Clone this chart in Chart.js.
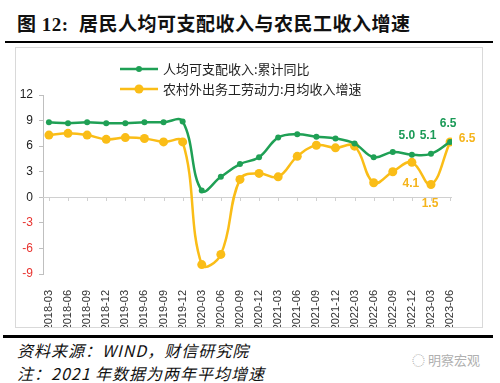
<!DOCTYPE html>
<html>
<head>
<meta charset="utf-8">
<script src="https://cdn.jsdelivr.net/npm/chart.js@4"></script>
<style>
  html,body{margin:0;padding:0;background:#fff;width:500px;height:383px;overflow:hidden;position:relative;}
  #title{position:absolute;left:17px;top:9px;font-family:"Liberation Serif","Noto Sans CJK SC",serif;font-weight:bold;font-size:19px;color:#111;white-space:nowrap;letter-spacing:0.5px;}
  #title .cn{font-family:"Noto Sans CJK SC",sans-serif;font-weight:600;}
  #rule1{position:absolute;left:5px;top:41px;width:488px;height:2px;background:#000;}
  #frame{position:absolute;left:15px;top:47px;width:466px;height:279px;border:1px solid #d9d9d9;}
  #cv{position:absolute;left:15px;top:47px;}
  #rule2{position:absolute;left:3px;top:335px;width:490px;height:3px;background:#000;}
  .foot{position:absolute;left:17px;font-family:"Noto Sans CJK SC",sans-serif;font-style:italic;font-size:16px;letter-spacing:1px;color:#111;white-space:nowrap;}
  #wm{position:absolute;left:412px;top:350px;font-family:"Noto Sans CJK SC",sans-serif;font-size:13px;color:#b0b0b0;}
</style>
</head>
<body>
<div id="title">图 12:&nbsp;&nbsp;<span class="cn">居民人均可支配收入与农民工收入增速</span></div>
<div id="rule1"></div>
<div id="frame"></div>
<canvas id="cv" width="467" height="280" style="width:467px;height:280px;"></canvas>
<div id="rule2"></div>
<div class="foot" style="top:338px;">资料来源：WIND，财信研究院</div>
<div class="foot" style="top:361px;">注：2021 年数据为两年平均增速</div>
<div id="wm">◌ 明察宏观</div>
<script>
const categories = ["2018-03","2018-06","2018-09","2018-12","2019-03","2019-06","2019-09","2019-12","2020-03","2020-06","2020-09","2020-12","2021-03","2021-06","2021-09","2021-12","2022-03","2022-06","2022-09","2022-12","2023-03","2023-06"];
const incomeCum = [8.8,8.7,8.8,8.7,8.7,8.8,8.8,8.9,0.8,2.4,3.9,4.7,7.0,7.4,7.1,6.9,6.3,4.7,5.3,5.0,5.1,6.5];
const migrantIncome = [7.3,7.5,7.3,6.8,7.0,6.9,6.5,6.5,-7.9,-6.7,2.1,2.8,2.4,4.8,6.1,5.8,6.0,1.7,3.0,4.1,1.5,6.5];
const seriesNames = ["人均可支配收入:累计同比","农村外出务工劳动力:月均收入增速"];
const yTicks = [-9,-6,-3,0,3,6,9,12];

const GREEN = '#1FA055', YELLOW = '#FABD17';
const GREEN_T = '#1B9A57', YELLOW_T = '#F5B41C';

// labelled points: [datasetIndex, categoryIndex, dx, dy, color]
const labelled = [
  [0, 21, -2, -18, GREEN_T],
  [0, 19, -5, -19, GREEN_T],
  [0, 20, -3, -18, GREEN_T],
  [1, 21, 17, -3, YELLOW_T],
  [1, 19, -1, 21, YELLOW_T],
  [1, 20, -1, 19, YELLOW_T]
];

const zeroAxis = {
  id:'zeroAxis',
  beforeDatasetsDraw(chart){
    const {ctx, chartArea, scales} = chart;
    const y0 = scales.y.getPixelForValue(0);
    ctx.save();
    ctx.strokeStyle = '#d0d0d0';
    ctx.lineWidth = 1;
    ctx.beginPath();
    ctx.moveTo(chartArea.left, Math.round(y0)+0.5);
    ctx.lineTo(chartArea.right, Math.round(y0)+0.5);
    categories.forEach((c,i)=>{
      const x = Math.round(scales.x.getPixelForValue(i))+0.5;
      ctx.moveTo(x, Math.round(y0));
      ctx.lineTo(x, Math.round(y0)+4);
    });
    ctx.stroke();
    ctx.restore();
  }
};

const valueLabels = {
  id:'valueLabels',
  afterDatasetsDraw(chart){
    const ctx = chart.ctx;
    ctx.save();
    ctx.font = 'bold 12px "Liberation Sans Narrow", "Liberation Sans", Arial, sans-serif';
    ctx.textAlign = 'center';
    ctx.textBaseline = 'middle';
    labelled.forEach(([d,i,dx,dy,col])=>{
      const pt = chart.getDatasetMeta(d).data[i];
      const v = chart.data.datasets[d].data[i].y;
      ctx.fillStyle = col;
      ctx.fillText(v.toFixed(1), pt.x+dx, pt.y+dy);
    });
    ctx.restore();
  }
};

const customLegend = {
  id:'customLegend',
  afterDraw(chart){
    const ctx = chart.ctx;
    const items = [[GREEN,3,22],[YELLOW,4.5,42]];
    ctx.save();
    items.forEach(([col,r,y],k)=>{
      ctx.strokeStyle = col; ctx.lineWidth = 2.5;
      ctx.beginPath(); ctx.moveTo(105,y); ctx.lineTo(143,y); ctx.stroke();
      ctx.fillStyle = col;
      ctx.beginPath(); ctx.arc(124,y,r,0,Math.PI*2); ctx.fill();
      ctx.fillStyle = '#222';
      ctx.font = '13px "Noto Sans CJK SC", sans-serif';
      ctx.textAlign = 'left'; ctx.textBaseline = 'middle';
      ctx.fillText(seriesNames[k], 148, y);
    });
    ctx.restore();
  }
};

const toXY = arr => arr.map((v,i)=>({x:i,y:v}));

new Chart(document.getElementById('cv'), {
  type:'line',
  data:{
    datasets:[
      {label:seriesNames[0], data:toXY(incomeCum), borderColor:GREEN, backgroundColor:GREEN, borderWidth:2.5, pointRadius:3, pointBackgroundColor:GREEN, pointBorderWidth:0, tension:0.4},
      {label:seriesNames[1], data:toXY(migrantIncome), borderColor:YELLOW, backgroundColor:YELLOW, borderWidth:2.5, pointRadius:4.5, pointBackgroundColor:YELLOW, pointBorderWidth:0, tension:0.4}
    ]
  },
  options:{
    responsive:false,
    animation:false,
    layout:{padding:{top:48,right:30,left:0,bottom:0}},
    plugins:{legend:{display:false},tooltip:{enabled:false}},
    scales:{
      x:{
        type:'linear', min:-0.31, max:21.1,
        afterBuildTicks(s){ s.ticks = categories.map((c,i)=>({value:i})); },
        afterFit(s){ s.height = 53; },
        grid:{display:false},
        border:{display:false},
        ticks:{
          autoSkip:false, minRotation:90, maxRotation:90, padding:8,
          color:'#333',
          font:{family:'"Liberation Sans", Arial, sans-serif', size:11},
          callback:(v)=>categories[v]
        }
      },
      y:{
        min:-9, max:12,
        afterBuildTicks(s){ s.ticks = yTicks.map(v=>({value:v})); },
        afterFit(s){ s.width = 28; },
        grid:{drawOnChartArea:false, drawTicks:true, tickLength:4, color:'#bfbfbf'},
        border:{display:true, color:'#bfbfbf'},
        ticks:{
          padding:6,
          color:(c)=> c.tick.value<0 ? '#e8332f' : '#222',
          font:{family:'"Liberation Sans", Arial, sans-serif', size:12}
        }
      }
    }
  },
  plugins:[zeroAxis, valueLabels, customLegend]
});
</script>
</body>
</html>
